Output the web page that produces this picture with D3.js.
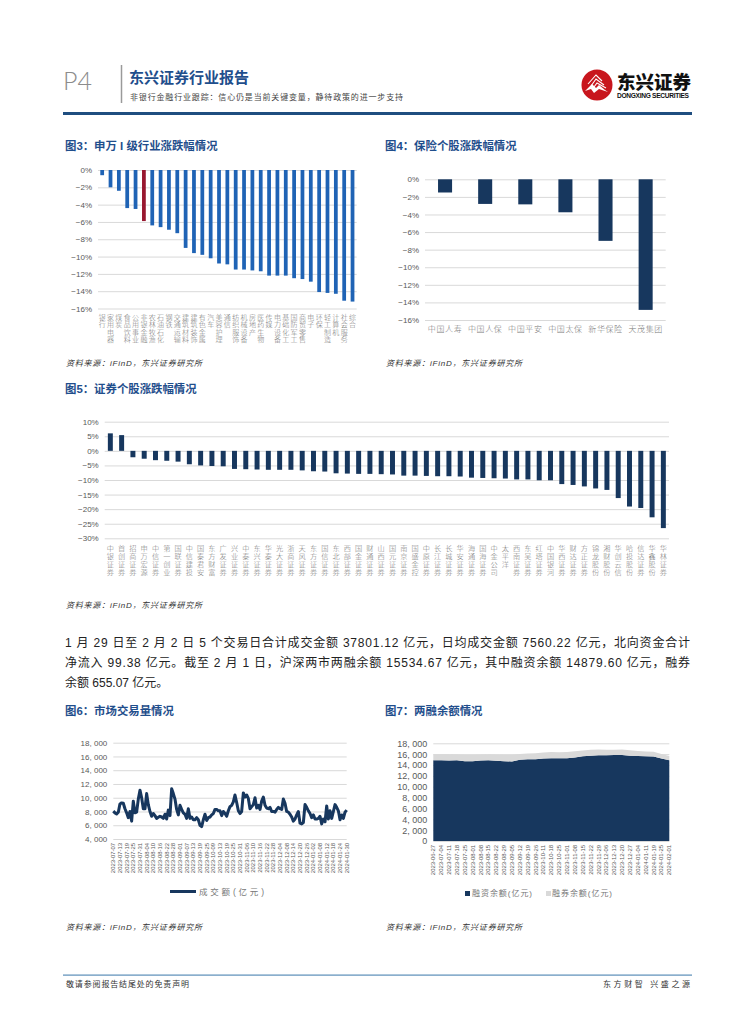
<!DOCTYPE html>
<html><head><meta charset="utf-8">
<script src="https://cdn.jsdelivr.net/npm/d3@7"></script>
<style>
html,body{margin:0;padding:0;background:#fff}
svg{display:block}
text{font-family:"Liberation Sans","Noto Sans CJK SC",sans-serif}
.vert{writing-mode:vertical-rl;text-orientation:upright}
</style></head><body>
<svg id="page" width="755" height="1024"></svg>
<script>
// ---- data ----
const swCats=["银行","家用电器","煤炭","食品饮料","公用事业","非银金融","农林牧渔","石油石化","钢铁","交通运输","建筑材料","建筑装饰","有色金属","汽车","美容护理","通信","纺织服饰","机械设备","房地产","医药生物","传媒","电力设备","基础化工","国防军工","商贸零售","电子","环保","轻工制造","计算机","社会服务","综合"];
const swVals=[-0.6,-2.0,-2.4,-4.4,-4.5,-5.9,-6.4,-6.6,-6.9,-7.3,-9.0,-9.6,-9.8,-10.2,-10.8,-10.9,-11.5,-11.5,-11.6,-11.7,-12.2,-12.2,-12.2,-12.5,-12.6,-12.9,-14.1,-14.2,-14.3,-15.1,-15.2];
const swHighlight="非银金融";
const insCats=["中国人寿","中国人保","中国平安","中国太保","新华保险","天茂集团"];
const insVals=[-1.5,-2.8,-2.85,-3.75,-7.0,-14.85];
const pctTicks16=[0,-2,-4,-6,-8,-10,-12,-14,-16];
const secCats=["中银证券","首创证券","招商证券","申万宏源","中信证券","第一创业","国联证券","中信建投","国泰君安","东方财富","广发证券","兴业证券","中泰证券","东兴证券","华泰证券","光大证券","浙商证券","天风证券","东方证券","国信证券","东北证券","西部证券","国金证券","财通证券","山西证券","国元证券","南京证券","国盛金控","中原证券","长江证券","长城证券","华安证券","海通证券","国海证券","中金公司","太平洋","西南证券","东吴证券","红塔证券","中国银河","华西证券","财达证券","方正证券","锦龙股份","湘财股份","华创云信","哈投股份","信达证券","华鑫股份","华林证券"];
const secVals=[6.0,5.4,-2.2,-2.7,-3.2,-3.4,-3.7,-4.6,-5.0,-5.2,-5.3,-6.2,-6.3,-6.4,-6.5,-6.5,-6.5,-6.7,-7.0,-7.1,-7.7,-7.8,-7.9,-7.9,-8.0,-8.1,-8.5,-8.5,-8.6,-8.7,-8.7,-8.8,-9.2,-9.3,-9.4,-9.5,-9.8,-9.8,-10.1,-10.1,-11.4,-11.7,-12.2,-12.9,-13.4,-16.2,-19.1,-19.6,-22.8,-26.5];
const pctTicks30=[10,5,0,-5,-10,-15,-20,-25,-30];
const turnover=[8050,7800,7650,7900,9100,9250,9200,8400,7800,7100,8000,6600,9500,7800,7900,9800,11100,10000,8400,8400,10600,9000,8000,7300,7700,7400,7000,7150,7300,7200,7000,7600,6900,8200,7400,11300,10600,9800,8300,7500,8900,8300,7800,7600,7000,8400,7000,7200,6800,6800,7100,6800,6000,5800,6800,7600,6700,7100,7200,7500,7700,8300,8300,8100,8100,7400,8000,7700,7300,8100,8700,8900,9400,10400,9300,8100,7700,8000,10700,10100,10400,9900,8400,8700,9000,10000,8500,8900,8300,9500,10100,8900,8500,8400,8600,8000,8000,7900,8300,8600,8400,8300,9800,9200,8000,7900,7600,7200,6600,6900,7500,8000,6300,6200,6400,9000,8600,8100,7700,7100,7500,6900,6900,7000,7300,6200,6900,6500,8800,6900,8100,7000,8000,9000,8600,8100,6800,7500,7000,7900,8200];
const turnoverDates=["2023-07-07","2023-07-13","2023-07-19","2023-07-25","2023-07-31","2023-08-04","2023-08-10","2023-08-16","2023-08-22","2023-08-28","2023-09-01","2023-09-07","2023-09-13","2023-09-19","2023-09-25","2023-10-09","2023-10-13","2023-10-19","2023-10-25","2023-10-31","2023-11-06","2023-11-10","2023-11-16","2023-11-22","2023-11-28","2023-12-04","2023-12-08","2023-12-14","2023-12-20","2023-12-26","2024-01-02","2024-01-08","2024-01-12","2024-01-18","2024-01-24","2024-01-30"];
const turnoverTicks=[18000,16000,14000,12000,10000,8000,6000,4000];
const marginDates=["2023-06-27","2023-07-04","2023-07-11","2023-07-18","2023-07-25","2023-08-01","2023-08-08","2023-08-15","2023-08-22","2023-08-29","2023-09-05","2023-09-12","2023-09-19","2023-09-26","2023-10-11","2023-10-18","2023-10-25","2023-11-01","2023-11-08","2023-11-15","2023-11-22","2023-11-29","2023-12-06","2023-12-13","2023-12-20","2023-12-27","2024-01-04","2024-01-11","2024-01-19","2024-01-25","2024-02-01"];
const financing=[14900,14880,14850,14880,14700,14700,14850,14880,14780,14700,14650,14950,15050,15050,15200,15250,15250,15250,15400,15600,15700,15820,15800,15830,15850,15700,15680,15600,15550,15200,14880];
const shortSell=[1100,1100,1110,1070,1150,1160,1050,1040,1100,1150,1200,1080,1050,1100,1120,1150,1080,1150,1120,1080,1100,1030,1020,1000,990,1000,920,900,900,850,800];
const marginTicks=[18000,16000,14000,12000,10000,8000,6000,4000,2000,0];
const bodyLines=["1 月 29 日至 2 月 2 日 5 个交易日合计成交金额 37801.12 亿元，日均成交金额 7560.22 亿元，北向资金合计","净流入 99.38 亿元。截至 2 月 1 日，沪深两市两融余额 15534.67 亿元，其中融资余额 14879.60 亿元，融券","余额 655.07 亿元。"];

const NAVY="#17375e", TITLE="#1f4e8c", GRID="#d9d9d9", TICK="#595959", CJKTICK="#777";
const svg=d3.select("#page");

function txt(x,y,s,size,fill,opts={}){
  const t=svg.append("text").attr("x",x).attr("y",y).attr("font-size",size).attr("fill",fill).text(s);
  if(opts.weight)t.attr("font-weight",opts.weight);
  if(opts.anchor)t.attr("text-anchor",opts.anchor);
  if(opts.italic)t.attr("font-style","italic");
  if(opts.len)t.attr("textLength",opts.len).attr("lengthAdjust","spacing");
  return t;
}
function pctFmt(d){return (d<0?"\u2212"+(-d):d)+"%";}
function thouFmt(d){return d3.format(",")(d).replace(",",", ");}

function yAxis(scale,ticks,fmt,x0,x1,size){
  const g=svg.append("g").attr("transform",`translate(${x0},0)`)
    .call(d3.axisLeft(scale).tickValues(ticks).tickFormat(fmt).tickSize(-(x1-x0)).tickPadding(6));
  g.select(".domain").remove();
  g.selectAll("line").attr("stroke",GRID).attr("stroke-width",1);
  g.selectAll("text").attr("fill",TICK).attr("font-size",size).style("font-family",'"Liberation Sans","Noto Sans CJK SC",sans-serif');
}
function verticalLabels(scale,y,size,spacing){
  const g=svg.append("g").attr("transform",`translate(0,${y})`)
    .call(d3.axisBottom(scale).tickSize(0).tickPadding(0));
  g.select(".domain").remove();
  g.selectAll("text").attr("class","vert").attr("fill",CJKTICK).attr("font-size",size)
    .attr("y",0).attr("dy",0).attr("text-anchor","start").style("letter-spacing",spacing+"px")
    .style("font-family",'"Noto Sans CJK SC",sans-serif').style("font-weight",300);
}
function bars(cats,vals,x,y,color){
  svg.append("g").selectAll("rect").data(cats).join("rect")
    .attr("x",d=>x(d)).attr("width",x.bandwidth())
    .attr("y",(d,i)=>y(Math.max(0,vals[i])))
    .attr("height",(d,i)=>Math.abs(y(vals[i])-y(0)))
    .attr("fill",(d,i)=>color(d));
}
function source(x,y){txt(x,y,"资料来源：iFinD，东兴证券研究所",8,"#333",{italic:true,len:136});}

// ---- header ----
txt(63,90,"P4",25,"#8c8c8c").style("font-family","Lato,sans-serif").style("font-weight",300);
svg.append("line").attr("x1",121.5).attr("x2",121.5).attr("y1",65).attr("y2",103).attr("stroke","#9a9a9a").attr("stroke-width",1.5);
txt(129,83,"东兴证券行业报告",15,TITLE,{weight:700});
txt(130,100,"非银行金融行业跟踪：信心仍是当前关键变量，静待政策的进一步支持",8,"#444",{len:273});
svg.append("rect").attr("x",63).attr("y",112).attr("width",629).attr("height",3).attr("fill","#1f4e80");
// logo
const logo=svg.append("g").attr("transform","translate(597,85)");
logo.append("circle").attr("r",15.5).attr("fill","#c8161d");
logo.append("path").attr("d","M-12,6 L-5,-1 L-1,3 L2,0 L8,5 L11,7 L2,4 L-3,8 L-6,4 Z").attr("fill","#fff");
logo.append("path").attr("d","M-9,-1 L-1,-10 L5,-4 M-6,1 L-1,-6 L7,0 M-3,2 L0,-2 L9,3").attr("stroke","#fff").attr("stroke-width",1.1).attr("fill","none");
txt(617,89,"东兴证券",18.5,"#111",{weight:900});
txt(617,97.5,"DONGXING SECURITIES",6.6,"#111",{weight:700,len:72});

// ---- section titles ----
const TS=11.4;
txt(65,150,"图3：申万 I 级行业涨跌幅情况",TS,TITLE,{weight:700});
txt(385,150,"图4：保险个股涨跌幅情况",TS,TITLE,{weight:700});
txt(65,393,"图5：证券个股涨跌幅情况",TS,TITLE,{weight:700});
txt(65,715,"图6：市场交易量情况",TS,TITLE,{weight:700});
txt(385,715,"图7：两融余额情况",TS,TITLE,{weight:700});

// ---- chart 3 ----
{
  const x=d3.scaleBand().domain(swCats).range([98,356.7]).paddingInner(.55).paddingOuter(.275);
  const y=d3.scaleLinear().domain([0,-16]).range([170,308.5]);
  yAxis(y,pctTicks16,pctFmt,98,356.7,8);
  bars(swCats,swVals,x,y,d=>d===swHighlight?"#98172f":"#1f63b5");
  verticalLabels(x,314,7,.3);
  source(66,366);
}
// ---- chart 4 ----
{
  const x=d3.scaleBand().domain(insCats).range([425,665.7]).padding(.65).paddingOuter(.325);
  const y=d3.scaleLinear().domain([0,-16]).range([179.3,320]);
  yAxis(y,pctTicks16,pctFmt,425,665.7,8);
  bars(insCats,insVals,x,y,()=>NAVY);
  const g=svg.append("g").attr("transform","translate(0,326)").call(d3.axisBottom(x).tickSize(0).tickPadding(0));
  g.select(".domain").remove();
  g.selectAll("text").attr("fill",CJKTICK).attr("font-size",8).attr("dy","0.71em").style("letter-spacing",".6px").style("font-family",'"Noto Sans CJK SC",sans-serif').style("font-weight",300);
  source(386,366);
}
// ---- chart 5 ----
{
  const x=d3.scaleBand().domain(secCats).range([104.7,669]).paddingInner(.56).paddingOuter(.28);
  const y=d3.scaleLinear().domain([10,-30]).range([421.7,538.3]);
  yAxis(y,pctTicks30,pctFmt,104.7,669,8);
  bars(secCats,secVals,x,y,()=>NAVY);
  verticalLabels(x,545,7.2,.8);
  source(66,608);
}
// ---- body ----
bodyLines.forEach((s,i)=>{
  txt(65,[647,667,687][i],s,12,"#222",i<2?{len:625}:{});
});
// ---- chart 6 ----
{
  const x=d3.scaleLinear().domain([0,turnover.length-1]).range([113.3,346.7]);
  const y=d3.scaleLinear().domain([4000,18000]).range([839,742.7]);
  yAxis(y,turnoverTicks,thouFmt,113.3,346.7,8);
  svg.append("path").attr("d",d3.line().x((d,i)=>x(i)).y(d=>y(d))(turnover))
    .attr("fill","none").attr("stroke",NAVY).attr("stroke-width",3).attr("stroke-linejoin","round");
  svg.append("g").selectAll("text").data(turnoverDates).join("text")
    .attr("transform",(d,i)=>`translate(${x(i*4)+2},843) rotate(-90)`)
    .attr("text-anchor","end").attr("font-size",5.9).attr("fill",TICK).text(d=>d);
  svg.append("line").attr("x1",170).attr("x2",196).attr("y1",891.5).attr("y2",891.5).attr("stroke",NAVY).attr("stroke-width",3);
  txt(199,895,"成交额(亿元)",8.5,CJKTICK,{len:65});
  source(66,930);
}
// ---- chart 7 ----
{
  const x=d3.scalePoint().domain(marginDates).range([433.3,669.3]);
  const y=d3.scaleLinear().domain([0,18000]).range([841,743.3]);
  yAxis(y,marginTicks,thouFmt,433.3,669.3,9);
  const rows=marginDates.map((d,i)=>({d,fin:financing[i],sht:shortSell[i]}));
  const stack=d3.stack().keys(["fin","sht"])(rows);
  const area=d3.area().x(p=>x(p.data.d)).y0(p=>y(p[0])).y1(p=>y(p[1]));
  svg.append("g").selectAll("path").data(stack).join("path").attr("d",area).attr("fill",(s,i)=>i?GRID:NAVY);
  svg.append("g").selectAll("text").data(marginDates).join("text")
    .attr("transform",d=>`translate(${x(d)+2},845) rotate(-90)`)
    .attr("text-anchor","end").attr("font-size",5.9).attr("fill",TICK).text(d=>d);
  svg.append("rect").attr("x",465).attr("y",891).attr("width",5).attr("height",5).attr("fill",NAVY);
  txt(472,896,"融资余额(亿元)",8,CJKTICK,{len:60});
  svg.append("rect").attr("x",546).attr("y",891).attr("width",5).attr("height",5).attr("fill",GRID);
  txt(552,896,"融券余额(亿元)",8,CJKTICK,{len:60});
  source(386,930);
}
// ---- footer ----
svg.append("rect").attr("x",63).attr("y",974.5).attr("width",629).attr("height",1.2).attr("fill","#5b8db8");
txt(66,987,"敬请参阅报告结尾处的免责声明",8,"#333",{len:123});
txt(603,987,"东方财智 兴盛之源",8,"#333",{len:87});
</script>
</body></html>
